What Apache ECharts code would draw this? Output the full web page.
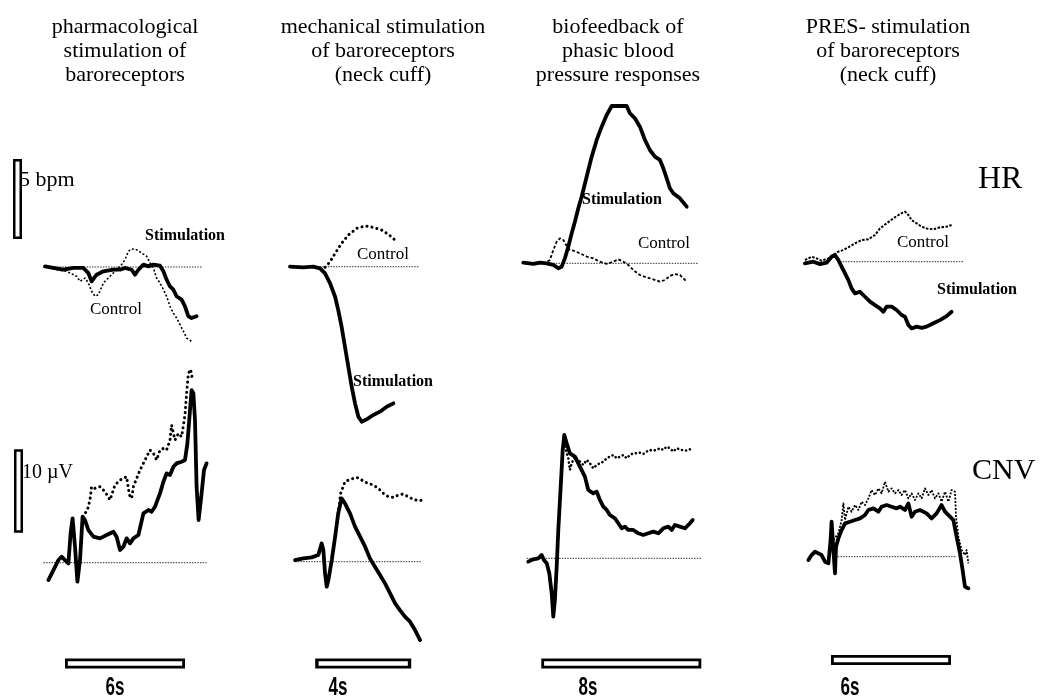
<!DOCTYPE html>
<html><head><meta charset="utf-8">
<script src="https://cdn.jsdelivr.net/npm/echarts@6/dist/echarts.min.js"></script>
<style>html,body{margin:0;padding:0;background:#fff}#c{width:1041px;height:699px}</style>
</head><body><div id="c"></div><script>
// ---------------- DATA (time in s, HR in bpm, CNV in µV) ----------------
const columnTitles = [
  ["pharmacological", "stimulation of", "baroreceptors"],
  ["mechanical stimulation", "of baroreceptors", "(neck cuff)"],
  ["biofeedback of", "phasic blood", "pressure responses"],
  ["PRES- stimulation", "of baroreceptors", "(neck cuff)"]
];
const rowLabels = ["HR", "CNV"];
const durationLabels = ["6s", "4s", "8s", "6s"];
const stimStart = [1.25, 1.05, 0.9, 1.3];      // s
const stimDuration = [6, 4, 8, 6];             // s
const hrScale = [1.75, 5];   // start bpm, span bpm
const cnvScale = [3.6, 10];  // start µV, span µV

// HR, column 1
const hr1Stim = [[0.25,0.04],[0.67,-0.06],[1.17,-0.17],[1.67,-0.06],[2.17,-0.06],[2.42,-0.38],[2.58,-0.9],[2.83,-0.48],[3.17,-0.27],[3.67,-0.17],[4.0,-0.17],[4.25,-0.06],[4.58,-0.17],[4.75,-0.48],[4.92,-0.17],[5.17,0.15],[5.42,0.04],[5.67,0.15],[6.0,0.08],[6.17,-0.27],[6.33,-0.79],[6.5,-1.21],[6.67,-1.42],[6.83,-1.83],[7.08,-2.04],[7.25,-2.46],[7.42,-3.08],[7.58,-3.19],[7.83,-3.08]];
const hr1Ctrl = [[0.25,0.04],[0.83,-0.17],[1.33,-0.27],[1.83,-0.58],[2.0,-0.9],[2.25,-0.69],[2.42,-1.0],[2.58,-1.52],[2.75,-1.83],[2.92,-1.73],[3.17,-1.0],[3.5,-0.58],[3.83,-0.17],[4.08,0.15],[4.25,0.46],[4.42,0.98],[4.58,1.13],[4.83,1.08],[5.08,0.88],[5.33,0.67],[5.5,0.25],[5.67,-0.06],[5.83,-0.69],[6.0,-1.0],[6.17,-1.42],[6.33,-1.83],[6.5,-2.46],[6.67,-2.88],[6.83,-3.19],[7.0,-3.6],[7.17,-4.02],[7.33,-4.44],[7.58,-4.65]];
const hr1Base = [0.17, 8.08];
// HR, column 2
const hr2Stim = [[0,0],[0.56,-0.04],[0.97,0],[1.25,-0.1],[1.46,-0.42],[1.67,-1.04],[1.88,-1.88],[2.01,-2.71],[2.15,-3.75],[2.29,-5.0],[2.43,-6.25],[2.57,-7.5],[2.71,-8.54],[2.85,-9.38],[2.99,-9.69],[3.19,-9.54],[3.47,-9.27],[3.75,-9.06],[4.03,-8.75],[4.31,-8.54]];
const hr2Ctrl = [[1.46,-0.04],[1.67,0.31],[1.88,0.83],[2.15,1.46],[2.43,1.98],[2.78,2.4],[3.13,2.54],[3.47,2.46],[3.82,2.29],[4.1,2.02],[4.31,1.77],[4.44,1.5]];
const hr2Base = [0, 5.35];
// HR, column 3
const hr3Stim = [[0,0.04],[0.5,-0.04],[0.83,0.04],[1.17,0],[1.5,-0.1],[1.75,-0.31],[1.92,-0.21],[2.08,0.31],[2.25,1.04],[2.42,1.88],[2.58,2.6],[2.75,3.44],[2.92,4.17],[3.17,5.42],[3.42,6.67],[3.67,7.71],[3.92,8.54],[4.17,9.27],[4.42,9.83],[4.83,9.83],[5.17,9.83],[5.33,9.38],[5.58,9.06],[5.83,8.54],[6.08,7.71],[6.33,7.08],[6.58,6.67],[6.83,6.46],[7.0,5.94],[7.17,5.31],[7.33,4.69],[7.5,4.38],[7.83,4.06],[8.17,3.54]];
const hr3Ctrl = [[0,0.04],[0.42,-0.04],[0.75,0.04],[1.08,0],[1.33,0.21],[1.5,0.83],[1.67,1.35],[1.83,1.56],[2.0,1.46],[2.17,1.08],[2.33,0.83],[2.5,0.79],[2.83,0.63],[3.17,0.42],[3.5,0.31],[3.83,0.1],[4.17,-0.04],[4.5,0.1],[4.75,0.25],[5.0,0.1],[5.25,-0.1],[5.5,-0.42],[5.83,-0.73],[6.17,-0.88],[6.5,-1.0],[6.83,-1.15],[7.08,-1.04],[7.33,-0.79],[7.58,-0.67],[7.83,-0.73],[8.17,-1.15]];
const hr3Base = [0, 8.75];
// HR, column 4
const hr4Stim = [[0,-0.1],[0.42,0],[0.75,-0.15],[1.08,-0.06],[1.33,0.31],[1.5,0.42],[1.67,0.1],[1.83,-0.31],[2.0,-0.73],[2.17,-1.15],[2.33,-1.67],[2.5,-1.98],[2.75,-1.88],[3.0,-2.19],[3.25,-2.5],[3.5,-2.71],[3.75,-2.92],[3.92,-3.13],[4.08,-2.81],[4.33,-2.81],[4.58,-3.02],[4.83,-3.33],[5.0,-3.44],[5.17,-3.96],[5.33,-4.17],[5.58,-4.06],[5.83,-4.13],[6.08,-4.06],[6.42,-3.85],[6.75,-3.65],[7.08,-3.4],[7.33,-3.13]];
const hr4Ctrl = [[0,0.1],[0.33,0.31],[0.58,0.21],[0.83,0.06],[1.17,0.21],[1.42,0.42],[1.67,0.63],[1.92,0.73],[2.17,0.9],[2.5,1.15],[2.83,1.35],[3.17,1.4],[3.5,1.67],[3.75,2.08],[4.08,2.4],[4.42,2.71],[4.75,2.98],[5.0,3.13],[5.17,2.92],[5.33,2.6],[5.58,2.4],[5.83,2.19],[6.08,2.08],[6.42,2.02],[6.75,2.15],[7.08,2.19],[7.33,2.29]];
const hr4Base = [1.75, 7.92];

// CNV, column 1
const cnv1Stim = [[0.42,-2.08],[0.67,-0.88],[0.92,0.32],[1.08,0.72],[1.25,0.32],[1.42,-0.08],[1.53,3.52],[1.63,5.32],[1.75,1.92],[1.87,-2.28],[2.0,0.32],[2.13,5.52],[2.25,5.12],[2.42,3.92],[2.67,3.12],[3.0,2.92],[3.33,3.32],[3.67,3.72],[3.83,3.12],[4.0,1.52],[4.17,1.92],[4.33,2.92],[4.5,2.32],[4.67,2.92],[4.92,3.32],[5.17,5.92],[5.42,6.32],[5.58,6.12],[5.75,6.72],[6.0,8.32],[6.17,9.72],[6.33,10.72],[6.5,10.52],[6.67,11.52],[6.83,11.92],[7.08,12.12],[7.25,12.32],[7.37,14.32],[7.5,18.32],[7.58,20.72],[7.67,20.32],[7.75,17.12],[7.83,9.12],[7.93,5.12],[8.08,8.32],[8.2,11.12],[8.33,11.92]];
const cnv1Ctrl = [[2.13,5.52],[2.37,6.32],[2.5,7.52],[2.58,9.12],[2.75,8.92],[3.0,9.12],[3.25,8.52],[3.5,7.52],[3.75,9.32],[4.0,9.92],[4.17,10.12],[4.33,10.32],[4.47,8.12],[4.58,7.72],[4.67,9.12],[5.0,11.12],[5.25,12.32],[5.5,13.52],[5.67,13.12],[5.83,12.32],[6.0,13.52],[6.17,13.72],[6.33,13.52],[6.5,14.72],[6.58,16.52],[6.75,14.72],[6.92,15.52],[7.08,15.12],[7.25,17.72],[7.33,20.32],[7.42,22.72],[7.53,23.2],[7.63,21.92]];
const cnv1Base = [0.17, 8.33];
// CNV, column 2
const cnv2Stim = [[0.21,0.2],[0.56,0.4],[0.9,0.52],[1.18,0.8],[1.32,2.2],[1.39,1.4],[1.46,-1.4],[1.53,-3.0],[1.6,-2.2],[1.74,0.2],[1.88,3.0],[2.01,5.8],[2.15,7.6],[2.29,7.0],[2.5,5.8],[2.71,4.2],[2.92,3.0],[3.13,1.8],[3.33,0.4],[3.54,-0.6],[3.75,-1.6],[3.96,-2.6],[4.17,-3.8],[4.38,-5.0],[4.58,-5.8],[4.79,-6.6],[5.0,-7.2],[5.21,-8.2],[5.42,-9.4]];
const cnv2Ctrl = [[2.01,5.8],[2.11,8.2],[2.29,9.6],[2.5,9.88],[2.78,10.12],[2.99,9.8],[3.19,9.48],[3.47,9.2],[3.68,8.8],[3.89,8.2],[4.1,7.8],[4.31,7.72],[4.51,8.0],[4.72,8.12],[4.93,7.8],[5.14,7.48],[5.35,7.32],[5.56,7.4]];
const cnv2Base = [0.21, 5.49];
// CNV, column 3
const cnv3Stim = [[0.25,-0.4],[0.5,-0.12],[0.75,0],[0.92,0.4],[1.03,-0.2],[1.17,-0.6],[1.3,-1.8],[1.42,-4.2],[1.5,-7.0],[1.58,-5.0],[1.67,-1.0],[1.75,3.4],[1.87,8.6],[1.97,13.0],[2.05,14.8],[2.17,13.8],[2.33,12.6],[2.58,12.2],[2.83,11.0],[3.08,9.8],[3.25,8.2],[3.5,7.8],[3.67,8.0],[3.83,7.0],[4.0,6.2],[4.17,5.8],[4.33,5.2],[4.58,4.8],[4.75,4.2],[4.92,3.6],[5.08,3.8],[5.25,3.4],[5.5,3.4],[5.75,3.0],[6.0,2.8],[6.25,3.0],[6.5,3.2],[6.75,3.0],[7.0,3.6],[7.25,3.8],[7.42,3.4],[7.58,4.0],[7.83,3.8],[8.08,3.6],[8.33,4.2],[8.47,4.6]];
const cnv3Ctrl = [[2.08,13.4],[2.25,12.0],[2.33,10.6],[2.42,11.4],[2.58,12.2],[2.83,11.6],[3.0,11.2],[3.17,11.8],[3.33,11.4],[3.5,10.8],[3.67,11.2],[3.83,11.4],[4.0,11.6],[4.17,12.0],[4.33,12.2],[4.5,12.4],[4.67,12.0],[4.83,12.2],[5.0,12.4],[5.17,12.0],[5.33,12.4],[5.5,12.6],[5.67,12.6],[5.83,12.68],[6.0,12.52],[6.17,12.8],[6.33,13.0],[6.5,12.92],[6.67,13.0],[6.83,13.2],[7.0,13.0],[7.17,13.4],[7.33,13.2],[7.5,12.8],[7.67,13.2],[7.92,13.0],[8.17,12.92],[8.33,13.08]];
const cnv3Base = [0.17, 8.92];
// CNV, column 4
const cnv4Stim = [[0.17,-0.4],[0.33,0.2],[0.5,0.6],[0.67,0.4],[0.83,0.2],[1.0,-0.6],[1.17,-0.8],[1.28,2.0],[1.33,4.2],[1.42,0.8],[1.5,-2.0],[1.55,1.2],[1.67,2.2],[1.83,3.2],[2.0,4.0],[2.25,4.2],[2.5,4.4],[2.75,4.6],[3.0,5.0],[3.17,5.6],[3.42,5.8],[3.67,5.4],[3.83,6.0],[4.08,6.2],[4.33,6.0],[4.58,5.8],[4.75,6.0],[5.0,5.6],[5.17,6.4],[5.33,4.8],[5.5,5.4],[5.75,5.6],[6.08,5.2],[6.33,4.6],[6.58,5.2],[6.83,6.2],[7.0,5.4],[7.25,4.8],[7.42,4.4],[7.58,2.4],[7.75,0.4],[7.88,-1.6],[8.0,-3.6],[8.17,-3.8]];
const cnv4Ctrl = [[1.42,2.0],[1.67,2.8],[1.83,4.4],[1.92,6.4],[2.0,4.4],[2.17,6.0],[2.33,5.4],[2.5,6.2],[2.67,5.6],[2.83,6.6],[3.0,6.2],[3.17,7.0],[3.33,8.0],[3.5,7.4],[3.67,8.2],[3.83,7.6],[4.0,9.0],[4.17,7.8],[4.33,8.2],[4.5,7.6],[4.67,8.0],[4.83,7.4],[5.0,8.0],[5.17,7.0],[5.33,7.6],[5.5,6.8],[5.67,7.6],[5.83,7.0],[6.0,8.2],[6.17,7.4],[6.33,8.0],[6.5,7.0],[6.67,7.6],[6.83,6.6],[7.0,7.8],[7.17,6.6],[7.33,8.0],[7.5,7.8],[7.55,4.8],[7.67,2.4],[7.83,0.8],[8.0,0.2],[8.08,0.8],[8.17,-0.8]];
const cnv4Base = [1.5, 7.58];

// ---------------- LAYOUT ----------------
const colLayout = [
  {left: 0,     width: 220, xMin: -2, xMax: 9,  hrBase: 267,   cnvBase: 562.7, barY: 663.5},
  {left: 266,   width: 168, xMin: -1, xMax: 6,  hrBase: 266.7, cnvBase: 561.7, barY: 663.5},
  {left: 503.3, width: 220, xMin: -1, xMax: 10, hrBase: 263.3, cnvBase: 558.3, barY: 663.5},
  {left: 785,   width: 220, xMin: -1, xMax: 10, hrBase: 261.7, cnvBase: 556.7, barY: 660}
];
const HR_RANGE = [-12, 12], HR_PX = 16;      // px per bpm
const CNV_RANGE = [-12, 24], CNV_PX = 8.333; // px per µV

const hrSets = [[hr1Stim, hr1Ctrl, hr1Base],[hr2Stim, hr2Ctrl, hr2Base],[hr3Stim, hr3Ctrl, hr3Base],[hr4Stim, hr4Ctrl, hr4Base]];
const cnvSets = [[cnv1Stim, cnv1Ctrl, cnv1Base],[cnv2Stim, cnv2Ctrl, cnv2Base],[cnv3Stim, cnv3Ctrl, cnv3Base],[cnv4Stim, cnv4Ctrl, cnv4Base]];

// control trace styles per panel
const thinDots = {width: 1.6, type: [2, 2], cap: 'butt'};
const fatDots = {width: 3, type: [0.1, 5], cap: 'round'};
const dashes = {width: 1.8, type: [3, 2], cap: 'butt'};
const hrCtrlStyles = [thinDots, fatDots, dashes, {width: 2, type: [2.5, 1.5], cap: 'butt'}];
const cnvCtrlStyles = [fatDots, fatDots, {width: 2.6, type: [0.1, 4], cap: 'round'}, {width: 1.8, type: [2, 1.5], cap: 'butt'}];

const grids = [], xAxes = [], yAxes = [], series = [];
function addGrid(left, width, top, height, xr, yr) {
  const i = grids.length;
  grids.push({left, top, width, height, containLabel: false, show: false});
  xAxes.push({type: 'value', gridIndex: i, min: xr[0], max: xr[1], show: false});
  yAxes.push({type: 'value', gridIndex: i, min: yr[0], max: yr[1], show: false});
  return i;
}
function addLine(gi, data, style, z) {
  series.push({type: 'line', xAxisIndex: gi, yAxisIndex: gi, data, symbol: 'none', showSymbol: false,
    silent: true, animation: false, clip: false, z: z, lineStyle: Object.assign({color: '#000', cap: 'round', join: 'round'}, style)});
}
const stimStyle = {width: 3.8, type: 'solid'};
const baseStyle = {width: 1, type: [1.5, 1.2], color: '#333', cap: 'butt'};

colLayout.forEach((c, k) => {
  const xr = [c.xMin, c.xMax];
  const hrH = (HR_RANGE[1] - HR_RANGE[0]) * HR_PX;
  const gh = addGrid(c.left, c.width, c.hrBase - HR_RANGE[1] * HR_PX, hrH, xr, HR_RANGE);
  const [hs, hc, hb] = hrSets[k];
  addLine(gh, [[hb[0], 0], [hb[1], 0]], baseStyle, 1);
  addLine(gh, hc, hrCtrlStyles[k], 2);
  addLine(gh, hs, stimStyle, 3);

  const cnvH = (CNV_RANGE[1] - CNV_RANGE[0]) * CNV_PX;
  const gc = addGrid(c.left, c.width, c.cnvBase - CNV_RANGE[1] * CNV_PX, cnvH, xr, CNV_RANGE);
  const [cs, cc, cb] = cnvSets[k];
  addLine(gc, [[cb[0], 0], [cb[1], 0]], baseStyle, 1);
  addLine(gc, cc, cnvCtrlStyles[k], 2);
  addLine(gc, cs, stimStyle, 3);

  // stimulation duration bar
  const gb = addGrid(c.left, c.width, c.barY - 10, 20, xr, [0, 1]);
  const s = stimStart[k], d = stimDuration[k];
  addLine(gb, [[s, 0.5], [s + d, 0.5]], {width: 10, cap: 'butt'}, 4);
  addLine(gb, [[s + 0.14, 0.5], [s + d - 0.14, 0.5]], {width: 4.5, color: '#fff', cap: 'butt'}, 5);

  if (k === 0) {
    const sx = -1.125;
    addLine(gh, [[sx, hrScale[0]], [sx, hrScale[0] + hrScale[1]]], {width: 9, cap: 'butt'}, 4);
    addLine(gh, [[sx, hrScale[0] + 0.16], [sx, hrScale[0] + hrScale[1] - 0.16]], {width: 4, color: '#fff', cap: 'butt'}, 5);
    const cx = -1.075;
    addLine(gc, [[cx, cnvScale[0]], [cx, cnvScale[0] + cnvScale[1]]], {width: 9, cap: 'butt'}, 4);
    addLine(gc, [[cx, cnvScale[0] + 0.3], [cx, cnvScale[0] + cnvScale[1] - 0.3]], {width: 4, color: '#fff', cap: 'butt'}, 5);
  }
});

// ---------------- TEXT ----------------
const SERIF = '"Liberation Serif", "Times New Roman", serif';
const graphics = [];
function txt(text, x, y, size, opts) {
  opts = opts || {};
  const align = opts.align || 'left';
  graphics.push({type: 'text', silent: true, z: 10, x: x, y: y, scaleX: opts.scaleX || 1, style: {
    text, x: 0, y: 0, fill: '#000', font: (opts.weight || 'normal') + ' ' + size + 'px ' + (opts.family || SERIF),
    textAlign: align, align: align, textVerticalAlign: 'middle', verticalAlign: 'middle'}});
}
const titleCenters = [125, 383, 618, 888];
const titleRows = [27, 51, 75];
columnTitles.forEach((lines, k) => lines.forEach((l, j) => txt(l, titleCenters[k], titleRows[j], 22, {align: 'center'})));

txt('Stimulation', 145, 236, 16, {weight: 'bold'});
txt('Control', 90, 310, 17);
txt('Control', 357, 255, 17);
txt('Stimulation', 353, 382, 16, {weight: 'bold'});
txt('Stimulation', 582, 200, 16, {weight: 'bold'});
txt('Control', 638, 244, 17);
txt('Control', 897, 243, 17);
txt('Stimulation', 937, 290, 16, {weight: 'bold'});
txt(rowLabels[0], 978, 180, 32);
txt(rowLabels[1], 972, 471, 30);
txt(hrScale[1] + ' bpm', 19, 180, 22);
txt(cnvScale[1] + ' µV', 22, 473, 20);
const durCenters = [115, 338, 588, 850];
durationLabels.forEach((l, k) => txt(l, durCenters[k], 688, 25, {align: 'center', weight: 'bold', scaleX: 0.68, family: '"Liberation Sans", Arial, sans-serif'}));

const chart = echarts.init(document.getElementById('c'), null, {renderer: 'canvas'});
chart.setOption({
  backgroundColor: '#fff',
  animation: false,
  grid: grids, xAxis: xAxes, yAxis: yAxes, series,
  graphic: graphics
});
</script></body></html>
